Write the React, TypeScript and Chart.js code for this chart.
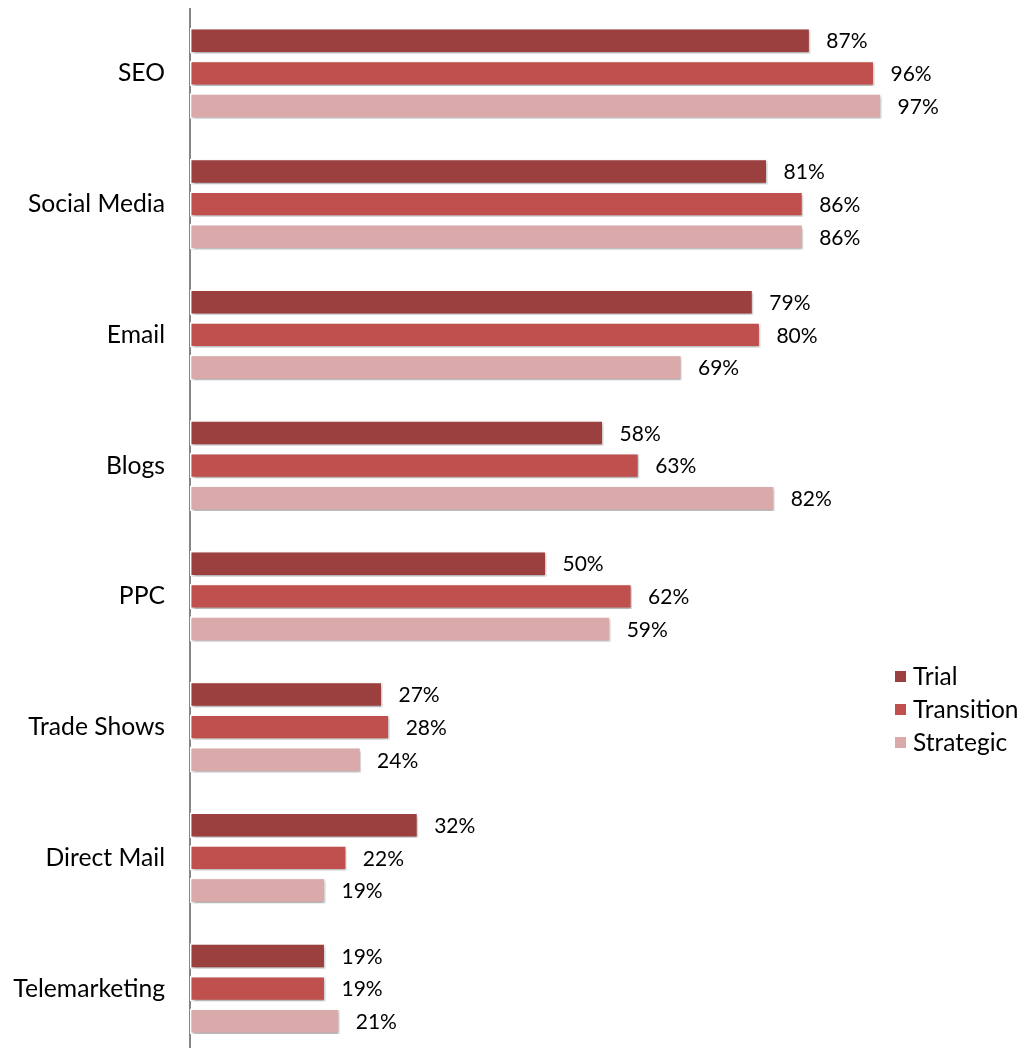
import React, { useEffect, useRef } from "react";
import { Chart, registerables } from "chart.js";

Chart.register(...registerables);

const categories = ["SEO", "Social Media", "Email", "Blogs", "PPC", "Trade Shows", "Direct Mail", "Telemarketing"];
const trial = [87, 81, 79, 58, 50, 27, 32, 19];
const transition = [96, 86, 80, 63, 62, 28, 22, 19];
const strategic = [97, 86, 69, 82, 59, 24, 19, 21];
const seriesNames = ["Trial", "Transition", "Strategic"];
const seriesColors = ["#9C403F", "#C0504D", "#DAA9AA"];

const FONT = "Lato, 'Open Sans', sans-serif";

const shadowPlugin = {
  id: "barShadow",
  beforeDatasetsDraw(chart: any) {
    const ctx = chart.ctx;
    ctx.save();
    ctx.shadowColor = "rgba(0,0,0,0.35)";
    ctx.shadowOffsetX = 1;
    ctx.shadowOffsetY = 2;
    ctx.shadowBlur = 3;
  },
  afterDatasetsDraw(chart: any) {
    chart.ctx.restore();
  },
};

const valueLabelPlugin = {
  id: "valueLabels",
  afterDatasetsDraw(chart: any) {
    const ctx = chart.ctx;
    ctx.save();
    ctx.font = `21px ${FONT}`;
    ctx.fillStyle = "#000";
    ctx.textAlign = "left";
    ctx.textBaseline = "middle";
    chart.data.datasets.forEach((ds: any, i: number) => {
      const meta = chart.getDatasetMeta(i);
      meta.data.forEach((bar: any, j: number) => {
        ctx.fillText(`${ds.data[j]}%`, bar.x + 16, bar.y + 1);
      });
    });
    ctx.restore();
  },
};

const legendPlugin = {
  id: "customLegend",
  afterDraw(chart: any) {
    const ctx = chart.ctx;
    const area = chart.chartArea;
    ctx.save();
    ctx.font = `24.5px ${FONT}`;
    ctx.textBaseline = "middle";
    ctx.textAlign = "left";
    const x0 = area.right - 8;
    const yStart = 668;
    chart.data.datasets.forEach((ds: any, i: number) => {
      const y = yStart + i * 33;
      ctx.fillStyle = ds.backgroundColor;
      ctx.fillRect(x0, y - 5, 11, 11);
      ctx.fillStyle = "#000";
      ctx.fillText(ds.label, x0 + 18, y + 1);
    });
    ctx.restore();
  },
};

export default function App() {
  const canvasRef = useRef<HTMLCanvasElement | null>(null);

  useEffect(() => {
    if (!canvasRef.current) return;
    const chart = new Chart(canvasRef.current, {
      type: "bar",
      data: {
        labels: categories,
        datasets: [trial, transition, strategic].map((d, i) => ({
          label: seriesNames[i],
          data: d,
          backgroundColor: seriesColors[i],
          borderColor: "#ffffff",
          borderWidth: 1.5,
          borderSkipped: false,
          categoryPercentage: 0.75,
          barPercentage: 0.78,
        })),
      },
      options: {
        indexAxis: "y",
        animation: false,
        responsive: true,
        maintainAspectRatio: false,
        layout: { padding: { top: 0, bottom: 0, left: 0, right: 123 } },
        plugins: {
          legend: { display: false },
          tooltip: { enabled: false },
        },
        scales: {
          x: {
            display: false,
            min: 0,
            max: 100,
            grid: { display: false },
          },
          y: {
            grid: { display: false, drawTicks: false },
            border: { display: true, color: "#868686", width: 2 },
            ticks: {
              color: "#000",
              padding: 25,
              font: { family: FONT, size: 24.7 },
            },
            afterFit(scale: any) {
              scale.width = 182;
              scale.paddingTop = 0;
              scale.paddingBottom = 0;
            },
          },
        },
      },
      plugins: [shadowPlugin, valueLabelPlugin, legendPlugin],
    });
    return () => chart.destroy();
  }, []);

  return (
    <div style={{ position: "relative", width: "1018px", height: "1046px" }}>
      <canvas ref={canvasRef} />
    </div>
  );
}
